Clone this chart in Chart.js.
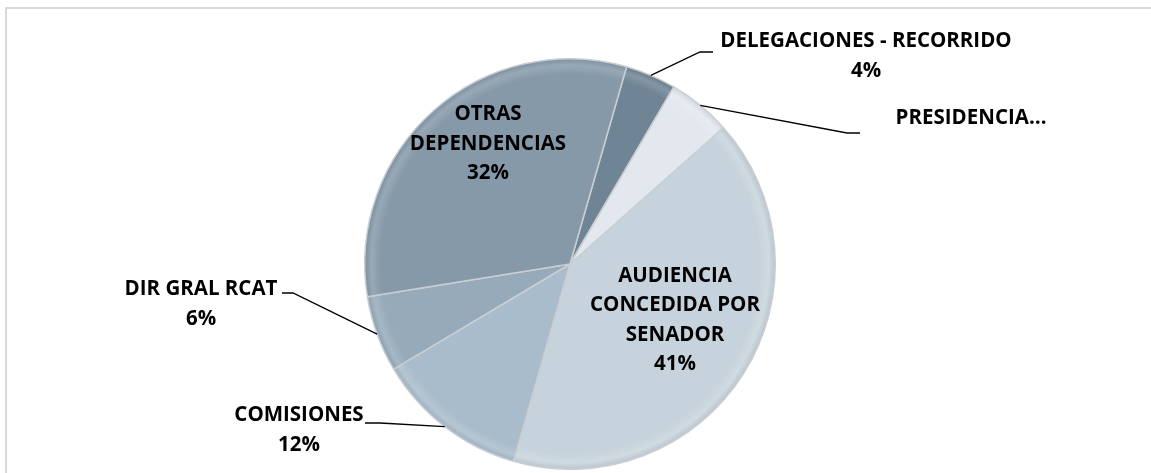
<!DOCTYPE html>
<html>
<head>
<meta charset="utf-8">
<script src="https://cdn.jsdelivr.net/npm/chart.js@4.4.1/dist/chart.umd.min.js"></script>
<style>
  html, body { margin: 0; padding: 0; background: #ffffff; }
  #wrap { position: relative; width: 1151px; height: 473px; overflow: hidden; }
  #frame { position: absolute; left: 5px; top: 7px; width: 1146px; height: 466px;
           border-top: 2px solid #d9d9d9; border-left: 2px solid #d9d9d9; box-sizing: border-box; pointer-events: none; }
  canvas { position: absolute; left: 0; top: 0; }
</style>
</head>
<body>
<div id="wrap">
  <canvas id="c" width="1151" height="473"></canvas>
  <div id="frame"></div>
</div>
<script>
// ---- data ----
const categories = ['DELEGACIONES - RECORRIDO', 'PRESIDENCIA', 'AUDIENCIA CONCEDIDA POR SENADOR', 'COMISIONES', 'DIR GRAL RCAT', 'OTRAS DEPENDENCIAS'];
const values = [4, 5, 41, 12, 6, 32];
const labelNameLines = [
  ['DELEGACIONES - RECORRIDO'],
  ['PRESIDENCIA…'],
  ['AUDIENCIA', 'CONCEDIDA POR', 'SENADOR'],
  ['COMISIONES'],
  ['DIR GRAL RCAT'],
  ['OTRAS', 'DEPENDENCIAS']
];
const showPercent = [true, false, true, true, true, true];
const sliceColors = ['#6f8494', '#e2e8ee', '#c7d3dc', '#a9bccb', '#96aaba', '#8699a9'];

// ---- label layout (offsets from pie centre, in px) ----
const labelLayout = [
  { dx: 296, dy: -208, elbow: [130, -212], end: [143, -212] },
  { dx: 401, dy: -146, elbow: [277, -131], end: [290, -131] },
  { dx: 105, dy: 56 },
  { dx: -271, dy: 166, elbow: [-190, 159], end: [-205, 159] },
  { dx: -369, dy: 40, elbow: [-277, 29], end: [-288, 29] },
  { dx: -82, dy: -120 }
];
const FONT = 'bold 20.5px "Open Sans", Lato, sans-serif';
const LINE_H = 29.5;

function shade(hex, amt) {
  const n = parseInt(hex.slice(1), 16);
  let r = (n >> 16) & 255, g = (n >> 8) & 255, b = n & 255;
  const f = c => Math.max(0, Math.min(255, Math.round(amt >= 0 ? c + (255 - c) * amt : c * (1 + amt))));
  return `rgb(${f(r)},${f(g)},${f(b)})`;
}

const labelPlugin = {
  id: 'labelPlugin',
  afterDatasetsDraw(chart) {
    const ctx = chart.ctx;
    const arcs = chart.getDatasetMeta(0).data;
    ctx.save();
    ctx.font = FONT;
    ctx.fillStyle = '#000';
    ctx.textAlign = 'center';
    ctx.textBaseline = 'middle';
    arcs.forEach((arc, i) => {
      const cx = arc.x, cy = arc.y;
      const L = labelLayout[i];
      const lines = labelNameLines[i].slice();
      if (showPercent[i]) lines.push(values[i] + '%');
      if (L.elbow) {
        const mid = (arc.startAngle + arc.endAngle) / 2;
        const sx = cx + Math.cos(mid) * arc.outerRadius;
        const sy = cy + Math.sin(mid) * arc.outerRadius;
        ctx.beginPath();
        ctx.strokeStyle = '#000';
        ctx.lineWidth = 1.3;
        ctx.moveTo(sx, sy);
        ctx.lineTo(cx + L.elbow[0], cy + L.elbow[1]);
        ctx.lineTo(cx + L.end[0], cy + L.end[1]);
        ctx.stroke();
      }
      const bx = cx + L.dx, by = cy + L.dy;
      const top = by - (lines.length - 1) * LINE_H / 2;
      lines.forEach((t, k) => ctx.fillText(t, bx, top + k * LINE_H));
    });
    ctx.restore();
  }
};

new Chart(document.getElementById('c'), {
  type: 'pie',
  data: {
    labels: categories,
    datasets: [{
      data: values,
      backgroundColor: (c) => {
        const base = sliceColors[c.dataIndex];
        const chart = c.chart;
        const a = chart.chartArea;
        if (!a) return base;
        const cx = (a.left + a.right) / 2, cy = (a.top + a.bottom) / 2;
        const r = Math.min(a.right - a.left, a.bottom - a.top) / 2;
        const g = chart.ctx.createRadialGradient(cx, cy, 0, cx, cy, r);
        g.addColorStop(0, base);
        g.addColorStop(0.92, base);
        g.addColorStop(0.965, shade(base, 0.15));
        g.addColorStop(1, shade(base, -0.08));
        return g;
      },
      borderColor: '#c9ced3',
      borderWidth: 1.5,
      hoverOffset: 0
    }]
  },
  options: {
    responsive: false,
    animation: false,
    rotation: 16,
    layout: { padding: { left: 0, right: 11, top: 58, bottom: 3 } },
    plugins: {
      legend: { display: false },
      tooltip: { enabled: false }
    }
  },
  plugins: [labelPlugin]
});
</script>
</body>
</html>
